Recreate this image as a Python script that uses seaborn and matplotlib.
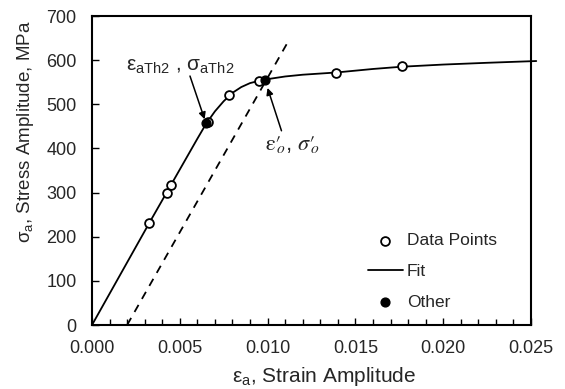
import matplotlib
matplotlib.use("Agg")
import matplotlib.pyplot as plt
import seaborn as sns
import pandas as pd
from matplotlib.ticker import MultipleLocator, FormatStrFormatter

# --- data ---
data_x = [0.00326, 0.00425, 0.00448, 0.00659, 0.00780, 0.00953, 0.01388, 0.01764]
data_y = [231, 300, 317, 461, 522, 553, 571, 587]
other_x = [0.00649, 0.00985]
other_y = [457, 555]
fit_x = [0.0, 0.00326, 0.0060, 0.0065, 0.0070, 0.0075, 0.0080, 0.0085, 0.0090,
         0.0095, 0.0100, 0.0110, 0.0120, 0.0139, 0.0160, 0.0176, 0.0200,
         0.0225, 0.0253]
fit_y = [0, 231, 422, 456, 484, 507, 526, 539, 548,
         553, 557, 563, 567, 572, 580, 585, 590, 594, 598]
offset_x = [0.0020, 0.01114]
offset_y = [0, 640]
x_ticks = [0.000, 0.005, 0.010, 0.015, 0.020, 0.025]
y_ticks = [0, 100, 200, 300, 400, 500, 600, 700]

sns.set_theme(style="ticks")
plt.rcParams['font.family'] = ['Liberation Sans', 'DejaVu Sans']
plt.rcParams['mathtext.fontset'] = 'custom'
plt.rcParams['mathtext.rm'] = 'Liberation Sans'
plt.rcParams['mathtext.it'] = 'Liberation Sans:italic'
plt.rcParams['mathtext.bf'] = 'Liberation Sans:bold'

fig = plt.figure(figsize=(5.65, 3.89), dpi=100)
ax = fig.add_axes([92/565, 1-325/389, (531-92)/565, (325-16)/389])

df_fit = pd.DataFrame({"x": fit_x, "y": fit_y})
df_off = pd.DataFrame({"x": offset_x, "y": offset_y})
df_data = pd.DataFrame({"x": data_x, "y": data_y})
df_other = pd.DataFrame({"x": other_x, "y": other_y})

sns.lineplot(data=df_off, x="x", y="y", ax=ax, color="black", lw=1.3,
             linestyle=(0, (4.5, 3.8)), sort=False, label="_nolegend_")
sns.lineplot(data=df_fit, x="x", y="y", ax=ax, color="black", lw=1.3,
             sort=False, label="Fit", zorder=3, clip_on=False)
sns.scatterplot(data=df_data, x="x", y="y", ax=ax, marker="o", s=40,
                facecolor="white", edgecolor="black", linewidth=1.3,
                label="Data Points", zorder=4)
sns.scatterplot(data=df_other, x="x", y="y", ax=ax, marker="o", s=40,
                color="black", edgecolor="black", linewidth=1.0,
                label="Other", zorder=5)

ax.set_xlim(0, 0.025)
ax.set_ylim(0, 700)
ax.set_xticks(x_ticks)
ax.set_yticks(y_ticks)
ax.xaxis.set_major_formatter(FormatStrFormatter('%.3f'))
ax.xaxis.set_minor_locator(MultipleLocator(0.001))
ax.tick_params(axis='both', which='both', direction='in', labelsize=13,
               color='black', width=1.0)
ax.tick_params(axis='x', which='major', length=5, pad=11)
ax.tick_params(axis='y', which='major', length=5, pad=11)
ax.tick_params(axis='x', which='minor', length=4)
for s in ax.spines.values():
    s.set_linewidth(1.5)
    s.set_color('black')

ax.set_xlabel(r'$\mathrm{ε_a}$, Strain Amplitude', fontsize=15)
ax.xaxis.set_label_coords((324-92)/439, -(377-325)/309)
ax.xaxis.label.set_va('center')
ax.set_ylabel(r'$\mathrm{σ_a}$, Stress Amplitude, MPa', fontsize=13.5)
ax.yaxis.set_label_coords(-(92-26)/439, (325-132)/309)
ax.yaxis.label.set_va('center')

# annotations
ax.text(0.00501, 585, r'$\mathrm{ε_{aTh2}}$ , $\mathrm{σ_{aTh2}}$',
        ha='center', va='center', fontsize=15)
ax.annotate('', xy=(other_x[0], other_y[0]), xytext=(0.00558, 564),
            arrowprops=dict(arrowstyle='-|>', color='black', lw=1.1,
                            mutation_scale=10, shrinkA=0, shrinkB=3))
ax.text(0.01145, 408,
        r"$\mathrm{ε}′\hspace{-0.3}{}_{o}$, $\sigma′\hspace{-0.3}{}_{o}$",
        ha='center', va='center', fontsize=16, math_fontfamily='stix')
ax.annotate('', xy=(other_x[1], other_y[1]), xytext=(0.01079, 440),
            arrowprops=dict(arrowstyle='-|>', color='black', lw=1.1,
                            mutation_scale=10, shrinkA=0, shrinkB=6))

h, l = ax.get_legend_handles_labels()
order = [l.index("Data Points"), l.index("Fit"), l.index("Other")]
ax.legend([h[i] for i in order], [l[i] for i in order], loc='upper left',
          bbox_to_anchor=((368-92)/439, (325-233)/309), frameon=False,
          fontsize=12.5, handlelength=2.0, handletextpad=0.25,
          labelspacing=0.9, borderpad=0, borderaxespad=0)

fig.savefig("out.png", dpi=100)
